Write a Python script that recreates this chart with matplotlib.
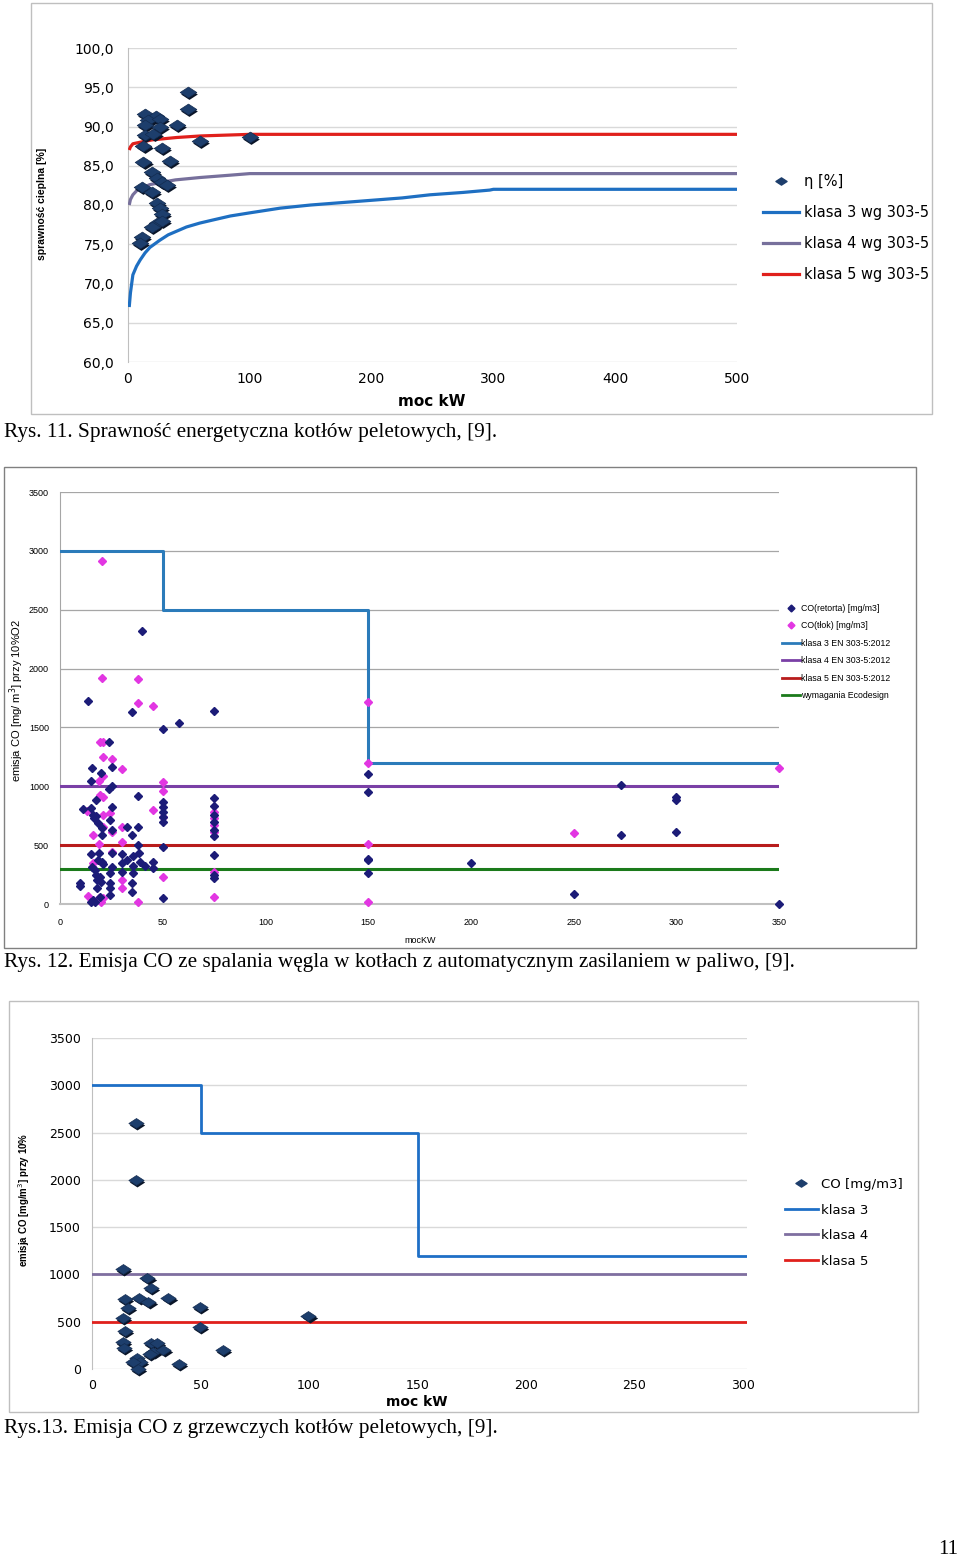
import matplotlib
matplotlib.use('Agg')
import matplotlib.pyplot as plt
from matplotlib.path import Path
from matplotlib.patches import Rectangle
from matplotlib.lines import Line2D
import matplotlib.transforms as mtrans

# ---------------- DATA ----------------
# Chart 1: efficiency of pellet boilers
eta_kw = [49.5, 49.5, 13.9, 22.7, 16.7, 26.3, 13.9, 26.3, 40.0, 13.9, 20.8, 59.1, 100.2,
          12.6, 27.7, 12.6, 34.4, 19.5, 23.6, 27.7, 31.8, 11.2, 19.5, 23.6, 26.3, 27.7,
          23.6, 27.7, 19.5, 11.2, 9.9]
eta_val = [94.4, 92.2, 91.6, 91.3, 90.8, 91.0, 90.2, 89.9, 90.2, 88.9, 89.1, 88.2, 88.6,
           87.5, 87.3, 85.5, 85.6, 84.2, 83.4, 82.9, 82.5, 82.3, 81.7, 80.2, 79.6, 78.9,
           77.7, 77.9, 77.2, 75.9, 75.1]
k3_kw = [1, 2, 4, 7, 10, 14, 18, 26, 33, 39, 48, 59, 70, 84, 100, 125, 150, 175,
         200, 225, 248, 275, 297, 300, 500]
k3_eta = [67.0, 68.8, 71.1, 72.2, 73.0, 73.9, 74.6, 75.5, 76.2, 76.6, 77.2, 77.7, 78.1,
          78.6, 79.0, 79.6, 80.0, 80.3, 80.6, 80.9, 81.3, 81.6, 81.9, 82.0, 82.0]
k4_kw = [1, 2, 4, 7, 10, 18, 28, 39, 59, 84, 100, 500]
k4_eta = [80.0, 80.7, 81.3, 81.8, 82.1, 82.6, 82.9, 83.2, 83.5, 83.8, 84.0, 84.0]
k5_kw = [1, 2, 4, 10, 20, 40, 60, 100, 500]
k5_eta = [87.0, 87.4, 87.8, 88.0, 88.3, 88.6, 88.8, 89.0, 89.0]
eta_yticks = [60, 65, 70, 75, 80, 85, 90, 95, 100]
eta_yticklabels = ["60,0", "65,0", "70,0", "75,0", "80,0", "85,0", "90,0", "95,0", "100,0"]
eta_xticks = [0, 100, 200, 300, 400, 500]

# Chart 2: CO emission, coal boilers with automatic feeding
ret_kw = [13.8, 35.2, 50.3, 24.0, 15.4, 25.2, 15.1, 20.0, 25.2, 24.0, 17.5, 38.1,
          50.3, 50.3, 50.3, 50.3, 50.3,
          11.4, 15.1, 25.2, 16.0, 17.5, 16.5, 18.7, 20.3, 24.3, 32.5, 38.1, 35.2, 25.2, 20.3,
          50.3, 38.1, 15.1, 19.1, 25.2, 30.0, 35.4, 38.5,
          18.7, 20.4, 21.0, 25.2, 30.0, 32.5, 35.4, 39.0, 41.4, 45.4, 45.4, 15.4, 17.0,
          17.5, 19.5, 18.0, 20.0, 24.3, 30.0, 35.4,
          9.7, 9.7, 24.3, 34.9, 17.9, 24.3, 34.9, 24.3, 19.5, 16.2, 15.0, 17.0, 50.3,
          39.9, 57.9, 75.0,
          75, 75, 75, 75, 75, 75, 75, 75, 75,
          150, 150, 150, 150, 150,
          200, 250, 273, 273, 300, 300, 300, 350]
ret_co = [1727, 1634, 1484, 1374, 1153, 1161, 1048, 1110, 1002, 974, 884, 920,
          869, 826, 784, 741, 699,
          804, 818, 826, 760, 745, 730, 685, 642, 714, 657, 657, 586, 629, 586,
          487, 501, 425, 436, 430, 425, 408, 430,
          374, 357, 340, 317, 351, 374, 323, 360, 323, 360, 302, 317, 289,
          246, 230, 200, 187, 261, 274, 261,
          181, 150, 181, 175, 133, 133, 104, 76, 62, 34, 20, 15, 48,
          2319, 1538, 1640,
          900, 832, 756, 697, 629, 578, 416, 246, 221,
          1102, 954, 385, 372, 261,
          351, 82, 1008, 583, 911, 884, 612, 0]
tlok_kw = [20.4, 20.4, 38.0, 38.1, 45.4, 19.5, 21.0, 21.1, 25.2, 30.0, 20.8, 19.1,
           50.3, 50.3, 50.3, 50.3, 19.5, 21.0,
           45.4, 13.0, 20.8, 24.3, 21.1, 25.2, 30.0, 16.2, 30.0, 19.1, 25.2, 16.2, 30.0, 30.0,
           13.8, 19.0, 21.0, 38.1, 20.0,
           75, 75, 75, 75, 75, 75,
           150, 150, 150, 150, 250.4, 350]
tlok_co = [2914, 1920, 1911, 1710, 1682, 1375, 1375, 1246, 1229, 1144, 1087, 1048,
           1040, 960, 741, 226, 930, 913,
           799, 793, 756, 776, 657, 614, 657, 586, 529, 510, 444, 346, 204, 133,
           68, 51, 51, 20, 15,
           782, 731, 671, 612, 272, 59,
           1714, 1200, 510, 20, 606, 1158]
c2_step_kw = [0, 50, 50, 150, 150, 350]
c2_k3 = [3000, 3000, 2500, 2500, 1200, 1200]
c2_line_kw = [0, 350]
c2_k4 = [1000, 1000]
c2_k5 = [500, 500]
c2_eco = [300, 300]
c2_yticks = [0, 500, 1000, 1500, 2000, 2500, 3000, 3500]
c2_xticks = [0, 50, 100, 150, 200, 250, 300, 350]

# Chart 3: CO emission, pellet heating boilers
co_kw = [20.3, 20.3, 14.4, 25.5, 27.0, 15.2, 21.8, 26.0, 35.2, 16.7, 49.8, 99.7, 14.1,
         49.8, 15.2, 14.1, 14.7, 27.0, 30.0, 28.3, 32.9, 26.7, 60.2, 20.6, 22.1, 19.0,
         40.1, 21.3]
co_val = [2597, 1998, 1054, 959, 860, 740, 747, 705, 747, 641, 659, 563, 536,
          441, 402, 282, 219, 275, 275, 183, 201, 155, 201, 113, 77, 77, 50, 0]
c3_step_kw = [0, 50, 50, 150, 150, 302]
c3_k3 = [3000, 3000, 2500, 2500, 1200, 1200]
c3_line_kw = [0, 302]
c3_k4 = [1000, 1000]
c3_k5 = [500, 500]
c3_yticks = [0, 500, 1000, 1500, 2000, 2500, 3000, 3500]
c3_xticks = [0, 50, 100, 150, 200, 250, 300]

# ---------------- FIGURE ----------------
W, H = 960, 1561
fig = plt.figure(figsize=(W / 100, H / 100), dpi=100)
fig.patch.set_facecolor('white')

def ax_px(x0, y0, x1, y1):
    return fig.add_axes([x0 / W, 1 - y1 / H, (x1 - x0) / W, (y1 - y0) / H])

def ftext(x, y, s, **kw):
    kw.setdefault('va', 'center')
    return fig.text(x / W, 1 - y / H, s, **kw)

def frame(x0, y0, x1, y1, color, lw=1.0):
    fig.add_artist(Rectangle((x0 / W, 1 - y1 / H), (x1 - x0) / W, (y1 - y0) / H,
                             transform=fig.transFigure, fill=False,
                             edgecolor=color, linewidth=lw))

def figpt(x, y):
    return (x / W, 1 - y / H)

DIAMOND = Path([(0, 0.65), (1, 0), (0, -0.65), (-1, 0), (0, 0.65)],
               [Path.MOVETO, Path.LINETO, Path.LINETO, Path.LINETO, Path.CLOSEPOLY])

def shaded_diamonds(ax, xs, ys, ms):
    sh = mtrans.offset_copy(ax.transData, fig=fig, x=1.2, y=-2.0, units='dots')
    ax.plot(xs, ys, ls='none', marker=DIAMOND, ms=ms, color='#0A1528',
            mec='none', transform=sh, zorder=4, clip_on=False)
    ax.plot(xs, ys, ls='none', marker=DIAMOND, ms=ms, color='#1D3E6C',
            mec='#142C50', mew=0.5, zorder=5, clip_on=False)

serif = 'Liberation Serif'

# ---------- Chart 1 ----------
frame(31, 3, 932, 414, '#BFBFBF')
ax1 = ax_px(128, 48, 737, 362)
ax1.set_xlim(0, 500)
ax1.set_ylim(60, 100)
ax1.plot(k3_kw, k3_eta, color='#1E6FC2', lw=2.3, zorder=3, solid_capstyle='butt')
ax1.plot(k4_kw, k4_eta, color='#77709C', lw=2.3, zorder=3, solid_capstyle='butt')
ax1.plot(k5_kw, k5_eta, color='#E0201C', lw=2.3, zorder=3, solid_capstyle='butt')
shaded_diamonds(ax1, eta_kw, eta_val, 12)
ax1.set_yticks(eta_yticks)
ax1.set_yticklabels(eta_yticklabels)
ax1.set_xticks(eta_xticks)
ax1.yaxis.grid(True, color='#D9D9D9', lw=1.0)
ax1.set_axisbelow(True)
for s in ['top', 'right', 'bottom']:
    ax1.spines[s].set_visible(False)
ax1.spines['left'].set_color('#BFBFBF')
ax1.tick_params(length=0, labelsize=10, colors='black')
ax1.tick_params(axis='y', pad=10)
ax1.tick_params(axis='x', pad=7)
ftext(432, 402, 'moc kW', ha='center', fontsize=11, fontweight='bold')
ftext(42, 204, 'sprawność cieplna [%]', ha='center', rotation=90, fontsize=7.5,
      fontweight='bold', family='Liberation Sans')
h1 = [Line2D([], [], ls='none', marker=DIAMOND, ms=8, color='#1D3E6C'),
      Line2D([], [], color='#1E6FC2', lw=2.3),
      Line2D([], [], color='#77709C', lw=2.3),
      Line2D([], [], color='#E0201C', lw=2.3)]
fig.legend(h1, ['η [%]', 'klasa 3 wg 303-5', 'klasa 4 wg 303-5', 'klasa 5 wg 303-5'],
           loc='upper left', bbox_to_anchor=figpt(763, 174), frameon=False,
           fontsize=10.5, borderpad=0, borderaxespad=0, handlelength=2.5,
           handletextpad=0.28, labelspacing=1.1)
ftext(4, 432, 'Rys. 11. Sprawność energetyczna kotłów peletowych, [9].',
      ha='left', fontsize=15.3, family=serif)

# ---------- Chart 2 ----------
frame(4, 467, 916, 948, '#808080', lw=1.0)
ax2 = ax_px(60, 492, 779, 904)
ax2.set_xlim(0, 350)
ax2.set_ylim(0, 3500)
ax2.plot(c2_step_kw, c2_k3, color='#2B7BBA', lw=2.2, zorder=3)
ax2.plot(c2_line_kw, c2_k4, color='#7A40A6', lw=2.2, zorder=3)
ax2.plot(c2_line_kw, c2_k5, color='#B81C1C', lw=2.2, zorder=3)
ax2.plot(c2_line_kw, c2_eco, color='#1B7A1B', lw=2.2, zorder=3)
ax2.plot(ret_kw, ret_co, ls='none', marker='D', ms=4.2, color='#1C1C78',
         mec='#1C1C78', zorder=5, clip_on=False)
ax2.plot(tlok_kw, tlok_co, ls='none', marker='D', ms=4.2, color='#E236E2',
         mec='#E236E2', zorder=4, clip_on=False)
ax2.set_yticks(c2_yticks)
ax2.set_xticks(c2_xticks)
ax2.yaxis.grid(True, color='#A6A6A6', lw=0.9)
ax2.set_axisbelow(True)
for s in ['top', 'right']:
    ax2.spines[s].set_visible(False)
ax2.spines['left'].set_color('#A6A6A6')
ax2.spines['bottom'].set_color('#C0C0C0')
ax2.spines['bottom'].set_linewidth(1.5)
ax2.tick_params(length=0, labelsize=6.5, colors='black')
for lab in ax2.get_xticklabels() + ax2.get_yticklabels():
    lab.set_family('Liberation Sans')
ax2.tick_params(axis='y', pad=8)
ax2.tick_params(axis='x', pad=10)
ftext(420, 941, 'mocKW', ha='center', fontsize=6.5, family='Liberation Sans')
ftext(17, 700, 'emisja CO [mg/ m$^3$] przy 10%O2', ha='center', rotation=90,
      fontsize=8, family='Liberation Sans')
h2 = [Line2D([], [], ls='none', marker='D', ms=3.5, color='#1C1C78'),
      Line2D([], [], ls='none', marker='D', ms=3.5, color='#E236E2'),
      Line2D([], [], color='#2B7BBA', lw=2),
      Line2D([], [], color='#7A40A6', lw=2),
      Line2D([], [], color='#B81C1C', lw=2),
      Line2D([], [], color='#1B7A1B', lw=2)]
leg2 = fig.legend(h2, ['CO(retorta) [mg/m3]', 'CO(tłok) [mg/m3]', 'klasa 3 EN 303-5:2012',
                       'klasa 4 EN 303-5:2012', 'klasa 5 EN 303-5:2012', 'wymagania Ecodesign'],
                  loc='upper left', bbox_to_anchor=figpt(782, 604), frameon=False,
                  prop={'family': 'Liberation Sans', 'size': 6.3}, borderpad=0,
                  borderaxespad=0, handlelength=2.0, handletextpad=0.15, labelspacing=0.97)
ftext(4, 963, 'Rys. 12. Emisja CO ze spalania węgla w kotłach z automatycznym zasilaniem w paliwo, [9].',
      ha='left', fontsize=15.3, family=serif)

# ---------- Chart 3 ----------
frame(9, 1001, 918, 1412, '#BFBFBF')
ax3 = ax_px(92, 1038, 92 + 302 * 2.17, 1369)
ax3.set_xlim(0, 302)
ax3.set_ylim(0, 3500)
ax3.plot(c3_step_kw, c3_k3, color='#1E6FC6', lw=2.0, zorder=3)
ax3.plot(c3_line_kw, c3_k4, color='#7F6FA0', lw=2.0, zorder=3)
ax3.plot(c3_line_kw, c3_k5, color='#E0201C', lw=2.0, zorder=3)
shaded_diamonds(ax3, co_kw, co_val, 11)
ax3.set_yticks(c3_yticks)
ax3.set_xticks(c3_xticks)
ax3.yaxis.grid(True, color='#D9D9D9', lw=1.0)
ax3.set_axisbelow(True)
for s in ['top', 'right', 'bottom']:
    ax3.spines[s].set_visible(False)
ax3.spines['left'].set_color('#BFBFBF')
ax3.tick_params(length=0, labelsize=9, colors='black')
ax3.tick_params(axis='y', pad=8)
ax3.tick_params(axis='x', pad=7)
ftext(417, 1402, 'moc kW', ha='center', fontsize=10, fontweight='bold')
ftext(24, 1200, 'emisja CO [mg/m$^3$] przy 10%', ha='center', rotation=90, fontsize=7,
      fontweight='bold', family='Liberation Sans')
h3 = [Line2D([], [], ls='none', marker=DIAMOND, ms=8, color='#1D3E6C'),
      Line2D([], [], color='#1E6FC6', lw=2),
      Line2D([], [], color='#7F6FA0', lw=2),
      Line2D([], [], color='#E0201C', lw=2)]
fig.legend(h3, ['CO [mg/m3]', 'klasa 3', 'klasa 4', 'klasa 5'],
           loc='upper left', bbox_to_anchor=figpt(785, 1178), frameon=False,
           fontsize=9.5, borderpad=0, borderaxespad=0, handlelength=2.5,
           handletextpad=0.23, labelspacing=0.95)
ftext(4, 1428, 'Rys.13. Emisja CO z grzewczych kotłów peletowych, [9].',
      ha='left', fontsize=15.3, family=serif)

ftext(948, 1550, '11', ha='center', fontsize=15, family=serif)

fig.savefig('out.png', dpi=100, facecolor='white')
